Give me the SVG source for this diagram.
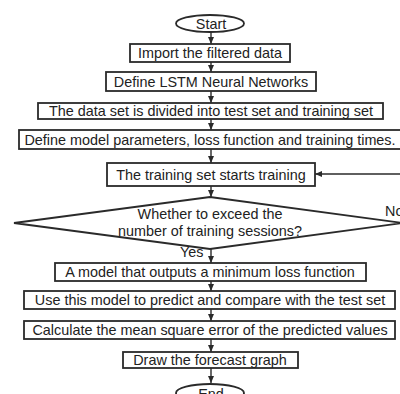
<svg xmlns="http://www.w3.org/2000/svg" width="400" height="394" viewBox="0 0 400 394">
<style>
.b{fill:#fff;stroke:#2a2a2a;stroke-width:1.8}
.t{font-family:"Liberation Sans",Arial,sans-serif;font-size:14.4px;fill:#222;text-anchor:middle}
.c{stroke:#2a2a2a;stroke-width:1.4;fill:none;marker-end:url(#a)}
</style>
<defs>
<marker id="a" markerWidth="8" markerHeight="8" refX="7" refY="4" orient="auto" markerUnits="userSpaceOnUse">
<path d="M0,1 L7,4 L0,7 Z" fill="#2a2a2a"/>
</marker>
</defs>
<rect width="400" height="394" fill="#fff"/>
<g id="connectors">
<line class="c" x1="211" y1="32" x2="211" y2="44"/>
<line class="c" x1="211" y1="62" x2="211" y2="72"/>
<line class="c" x1="211" y1="91" x2="211" y2="103"/>
<line class="c" x1="211" y1="119" x2="211" y2="130"/>
<line class="c" x1="211" y1="149" x2="211" y2="163"/>
<line class="c" x1="211" y1="186" x2="211" y2="197"/>
<line class="c" x1="211" y1="249" x2="211" y2="263"/>
<line class="c" x1="211" y1="281" x2="211" y2="291"/>
<line class="c" x1="211" y1="309" x2="211" y2="321"/>
<line class="c" x1="211" y1="339" x2="211" y2="352"/>
<line class="c" x1="211" y1="368" x2="211" y2="383"/>
<line class="c" x1="402" y1="174" x2="315" y2="174"/>
<text class="t" x="180" y="257" style="text-anchor:start">Yes</text>
<text class="t" x="385" y="216" style="text-anchor:start">No</text>
</g>
<g id="start"><ellipse class="b" cx="210" cy="23.5" rx="34" ry="8.5"/><text class="t" x="211" y="28.5">Start</text></g>
<g id="import"><rect class="b" x="130" y="44" width="160" height="18"/><text class="t" x="210" y="58">Import the filtered data</text></g>
<g id="define-lstm"><rect class="b" x="106" y="72" width="210" height="19"/><text class="t" x="211" y="86.5">Define LSTM Neural Networks</text></g>
<g id="divide"><rect class="b" x="38" y="103" width="345" height="16"/><text class="t" x="211" y="116">The data set is divided into test set and training set</text></g>
<g id="params"><rect class="b" x="19" y="130" width="382" height="19"/><text class="t" x="210" y="144.5">Define model parameters, loss function and training times.</text></g>
<g id="train"><rect class="b" x="107" y="163" width="208" height="23"/><text class="t" x="211" y="179.5">The training set starts training</text></g>
<g id="decision"><polygon class="b" points="14,223 210,197 403,223 210,249"/><text class="t" x="210" y="219">Whether to exceed the</text><text class="t" x="210" y="236">number of training sessions?</text></g>
<g id="min-loss"><rect class="b" x="55" y="263" width="311" height="18"/><text class="t" x="210" y="277">A model that outputs a minimum loss function</text></g>
<g id="predict"><rect class="b" x="24" y="291" width="371" height="18"/><text class="t" x="210" y="305">Use this model to predict and compare with the test set</text></g>
<g id="mse"><rect class="b" x="24" y="321" width="371" height="18"/><text class="t" x="210" y="335">Calculate the mean square error of the predicted values</text></g>
<g id="graph"><rect class="b" x="123" y="352" width="175" height="16"/><text class="t" x="210" y="365">Draw the forecast graph</text></g>
<g id="end"><ellipse class="b" cx="210" cy="393" rx="34" ry="9"/><text class="t" x="211" y="399">End</text></g>
</svg>
